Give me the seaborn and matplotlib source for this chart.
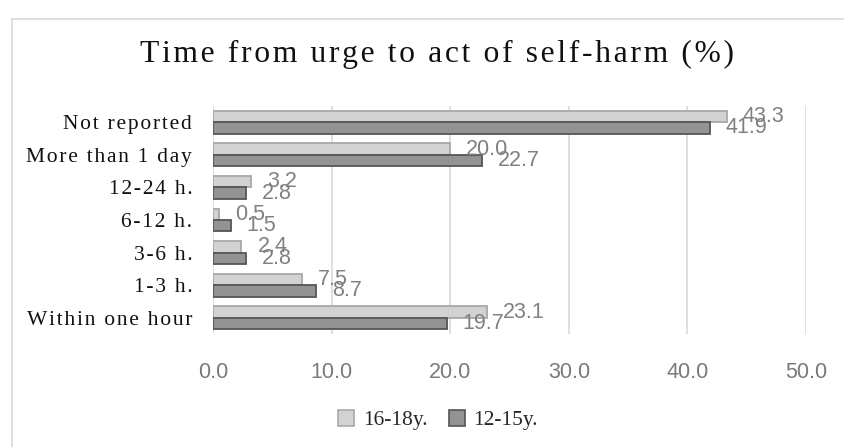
import matplotlib
matplotlib.use("Agg")
import matplotlib.pyplot as plt
import seaborn as sns
import pandas as pd
from matplotlib.lines import Line2D
from matplotlib.patches import Patch

categories = ["Not reported", "More than 1 day", "12-24 h.", "6-12 h.",
              "3-6 h.", "1-3 h.", "Within one hour"]
groups = ["16-18y.", "12-15y."]
values_16_18 = [43.3, 20.0, 3.2, 0.5, 2.4, 7.5, 23.1]
values_12_15 = [41.9, 22.7, 2.8, 1.5, 2.8, 8.7, 19.7]
x_ticks = [0, 10, 20, 30, 40, 50]
title = "Time from urge to act of self-harm (%)"

df = pd.DataFrame({
    "category": categories * 2,
    "value": values_16_18 + values_12_15,
    "group": [groups[0]] * len(categories) + [groups[1]] * len(categories),
})

sns.set_theme(style="white")
plt.rcParams["font.family"] = ["Liberation Serif", "DejaVu Serif"]

HS = "\u200a"
def spaced(s):
    return HS.join(s)

fills = ["#d2d2d2", "#939393"]
edges = ["#a8a8a8", "#555555"]
SANS = ["Liberation Sans", "DejaVu Sans"]

fig = plt.figure(figsize=(8.44, 4.47), dpi=100)
W, H = 844, 447
ax = fig.add_axes([213 / W, 1 - 334 / H, (806 - 213) / W, (334 - 106) / H])

sns.barplot(data=df, y="category", x="value", hue="group", order=categories,
            hue_order=groups, palette=fills, orient="h", width=0.7,
            ax=ax, legend=False, saturation=1)

for i, cont in enumerate(ax.containers):
    for bar in cont:
        bar.set_edgecolor(edges[i])
        bar.set_linewidth(1.3)
    ax.bar_label(cont, fmt="%.1f", padding=11.5, color="#808080",
                 fontsize=15.5, family=SANS)

ax.set_xlim(0, 50)
ax.set_xticks(x_ticks)
ax.set_xticklabels([f"{t:.1f}" for t in x_ticks], color="#7a7a7a",
                   fontsize=15.5, family=SANS)
ax.set_yticks(range(len(categories)))
ax.set_yticklabels([spaced(c) for c in categories], fontsize=15.5,
                   color="#111111")
ax.tick_params(axis="y", length=0, pad=15)
ax.tick_params(axis="x", length=0, pad=20)
ax.set_xlabel("")
ax.set_ylabel("")
for s in ax.spines.values():
    s.set_visible(False)
ax.grid(axis="x", color="#d9d9d9", linewidth=1.2)
ax.grid(axis="y", visible=False)
ax.set_axisbelow(True)

fig.text(436.5 / W, 1 - 54 / H, spaced(title), ha="center", va="center",
         fontsize=22.8, color="#111111")

handles = [Patch(facecolor=fills[i], edgecolor=edges[i], linewidth=1.2)
           for i in range(2)]
fig.legend(handles, groups, loc="center",
           bbox_to_anchor=(438 / W, 1 - 420 / H), ncol=2, frameon=False,
           fontsize=15.5, handlelength=0.75, handleheight=0.75,
           handletextpad=0.4, columnspacing=1.0)

fig.add_artist(Line2D([12 / W, 12 / W], [0, 1 - 19 / H], transform=fig.transFigure,
                      color="#d9d9d9", linewidth=1.2))
fig.add_artist(Line2D([12 / W, 1], [1 - 19 / H, 1 - 19 / H], transform=fig.transFigure,
                      color="#d9d9d9", linewidth=1.2))

fig.savefig("out.png", dpi=100)
